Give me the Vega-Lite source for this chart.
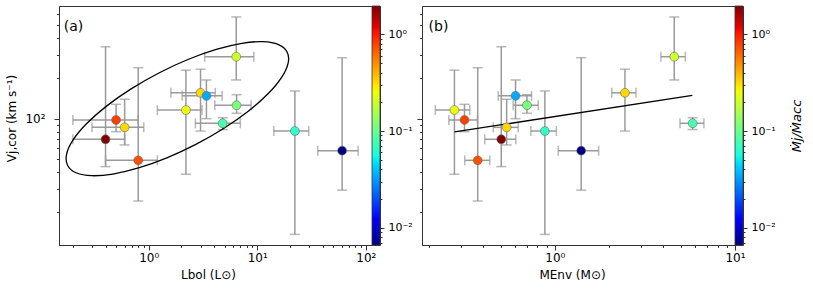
{
  "$schema": "https://vega.github.io/schema/vega-lite/v6.json",
  "padding": {"left": 5, "top": 5, "right": 0, "bottom": 0},
  "config": {
    "font": "DejaVu Sans",
    "view": {"stroke": "#333", "strokeWidth": 1},
    "axis": {"grid": false, "domainColor": "#333", "tickColor": "#333", "labelColor": "#000", "titleColor": "#000", "labelFont": "DejaVu Sans", "titleFont": "DejaVu Sans", "labelFontSize": 12, "titleFontSize": 12, "titleFontWeight": "normal", "labelFlush": false, "labelOverlap": false, "tickWidth": 1}
  },
  "datasets": {
    "src": [
      {"id": 1, "L": 0.40, "Llo": 0.20, "Lhi": 0.60, "M": 0.504, "Mlo": 0.408, "Mhi": 0.607, "V": 70.2, "Vlo": 43.9, "Vhi": 344, "R": 1.9634},
      {"id": 2, "L": 0.50, "Llo": 0.20, "Lhi": 0.80, "M": 0.315, "Mlo": 0.258, "Mhi": 0.372, "V": 97.8, "Vlo": 80, "Vhi": 128, "R": 0.81},
      {"id": 3, "L": 0.60, "Llo": 0.30, "Lhi": 0.90, "M": 0.54, "Mlo": 0.455, "Mhi": 0.626, "V": 86.2, "Vlo": 63.7, "Vhi": 139.6, "R": 0.32},
      {"id": 4, "L": 0.80, "Llo": 0.40, "Lhi": 1.20, "M": 0.373, "Mlo": 0.316, "Mhi": 0.435, "V": 48.9, "Vlo": 24.3, "Vhi": 240, "R": 0.73},
      {"id": 5, "L": 2.2, "Llo": 1.2, "Lhi": 3.1, "M": 0.277, "Mlo": 0.217, "Mhi": 0.337, "V": 116, "Vlo": 38.5, "Vhi": 230, "R": 0.246},
      {"id": 6, "L": 3.0, "Llo": 1.6, "Lhi": 4.1, "M": 2.45, "Mlo": 2.07, "Mhi": 2.82, "V": 156, "Vlo": 80.9, "Vhi": 234, "R": 0.32},
      {"id": 7, "L": 3.4, "Llo": 2.03, "Lhi": 4.74, "M": 0.605, "Mlo": 0.485, "Mhi": 0.742, "V": 148, "Vlo": 100, "Vhi": 194.5, "R": 0.0345},
      {"id": 8, "L": 6.4, "Llo": 3.28, "Lhi": 9.29, "M": 4.6, "Mlo": 3.88, "Mhi": 5.30, "V": 290, "Vlo": 194.5, "Vhi": 574, "R": 0.2},
      {"id": 9, "L": 6.45, "Llo": 4.06, "Lhi": 8.77, "M": 0.70, "Mlo": 0.587, "Mhi": 0.809, "V": 126, "Vlo": 109.7, "Vhi": 151, "R": 0.114},
      {"id": 10, "L": 4.8, "Llo": 2.69, "Lhi": 6.98, "M": 5.82, "Mlo": 4.95, "Mhi": 6.72, "V": 92.4, "Vlo": 83, "Vhi": 101.7, "R": 0.081},
      {"id": 11, "L": 22.2, "Llo": 14.2, "Lhi": 29.8, "M": 0.88, "Mlo": 0.736, "Mhi": 1.02, "V": 80.9, "Vlo": 13.7, "Vhi": 161, "R": 0.068},
      {"id": 12, "L": 60.5, "Llo": 36.1, "Lhi": 84.9, "M": 1.40, "Mlo": 1.044, "Mhi": 1.75, "V": 57.7, "Vlo": 29.3, "Vhi": 285, "R": 0.006622}
    ],
    "ell": [
      {"i": 0, "ex": 18.83, "ey": 314.8}, {"i": 1, "ex": 15.71, "ey": 356.9}, {"i": 2, "ex": 11.33, "ey": 375.4},
      {"i": 3, "ex": 7.215, "ey": 365.0}, {"i": 4, "ex": 4.184, "ey": 328.9}, {"i": 5, "ex": 2.295, "ey": 276.4},
      {"i": 6, "ex": 1.240, "ey": 219.3}, {"i": 7, "ex": 0.6881, "ey": 166.9}, {"i": 8, "ex": 0.4079, "ey": 124.1},
      {"i": 9, "ex": 0.2681, "ey": 91.96}, {"i": 10, "ex": 0.2009, "ey": 69.37}, {"i": 11, "ex": 0.1750, "ey": 54.27},
      {"i": 12, "ex": 0.1789, "ey": 44.80}, {"i": 13, "ex": 0.2144, "ey": 39.50}, {"i": 14, "ex": 0.2973, "ey": 37.55},
      {"i": 15, "ex": 0.4667, "ey": 38.62}, {"i": 16, "ex": 0.8043, "ey": 42.87}, {"i": 17, "ex": 1.467, "ey": 51.02},
      {"i": 18, "ex": 2.716, "ey": 64.29}, {"i": 19, "ex": 4.894, "ey": 84.52}, {"i": 20, "ex": 8.254, "ey": 113.6},
      {"i": 21, "ex": 12.56, "ey": 153.3}, {"i": 22, "ex": 16.76, "ey": 203.2}, {"i": 23, "ex": 19.24, "ey": 259.8}
    ],
    "fit": [{"x": 0.2774, "y": 79.6}, {"x": 5.80, "y": 149.5}],
    "lab": [{"p": "a", "t": "(a)", "x": 0.165, "y": 483}, {"p": "b", "t": "(b)", "x": 0.199, "y": 483}],
    "cb": [{"lo": 0.006622, "hi": 1.9634}]
  },
  "spacing": 3,
  "resolve": {"scale": {"x": "independent", "y": "independent", "color": "shared"}},
  "hconcat": [
    {
      "bounds": "flush",
      "spacing": 0,
      "resolve": {"scale": {"x": "independent", "y": "independent"}},
      "hconcat": [
        {
          "width": 313, "height": 239,
          "data": {"name": "src"},
          "layer": [
            {"mark": {"type": "rule", "color": "#9a9a9a", "strokeWidth": 1.5},
             "encoding": {
               "x": {"field": "L", "type": "quantitative", "scale": {"type": "log", "domain": [0.149, 114], "nice": false},
                     "axis": {"title": "Lbol (L⊙)", "titleX": 149, "values": [0.2,0.3,0.4,0.5,0.6,0.7,0.8,0.9,1,2,3,4,5,6,7,8,9,10,20,30,40,50,60,70,80,90,100],
                              "tickSize": {"condition": {"test": "datum.value == 1 || datum.value == 10 || datum.value == 100", "value": 5}, "value": 2.5},
                              "labelExpr": "datum.value == 1 ? '10⁰' : datum.value == 10 ? '10¹' : datum.value == 100 ? '10²' : ''",
                              "labelPadding": 2, "titlePadding": 6}},
               "y": {"field": "Vlo", "type": "quantitative", "scale": {"type": "log", "domain": [11.42, 693], "nice": false},
                     "axis": {"title": "Vj,cor (km s⁻¹)", "titleY": 112, "values": [20,30,40,50,60,70,80,90,100,200,300,400,500,600],
                              "tickSize": {"condition": {"test": "datum.value == 100", "value": 5}, "value": 2.5},
                              "labelExpr": "datum.value == 100 ? '10²' : ''",
                              "labelPadding": 9, "titlePadding": 6}},
               "y2": {"field": "Vhi"}}},
            {"mark": {"type": "tick", "orient": "horizontal", "color": "#9a9a9a", "size": 10, "thickness": 1.5},
             "encoding": {
               "x": {"field": "L", "type": "quantitative", "scale": {"type": "log", "domain": [0.149, 114], "nice": false}},
               "y": {"field": "Vlo", "type": "quantitative", "scale": {"type": "log", "domain": [11.42, 693], "nice": false}}}},
            {"mark": {"type": "tick", "orient": "horizontal", "color": "#9a9a9a", "size": 10, "thickness": 1.5},
             "encoding": {
               "x": {"field": "L", "type": "quantitative", "scale": {"type": "log", "domain": [0.149, 114], "nice": false}},
               "y": {"field": "Vhi", "type": "quantitative", "scale": {"type": "log", "domain": [11.42, 693], "nice": false}}}},
            {"mark": {"type": "rule", "color": "#9a9a9a", "strokeWidth": 1.5},
             "encoding": {
               "x": {"field": "Llo", "type": "quantitative", "scale": {"type": "log", "domain": [0.149, 114], "nice": false}},
               "x2": {"field": "Lhi"},
               "y": {"field": "V", "type": "quantitative", "scale": {"type": "log", "domain": [11.42, 693], "nice": false}}}},
            {"mark": {"type": "tick", "orient": "vertical", "color": "#9a9a9a", "size": 10, "thickness": 1.5},
             "encoding": {
               "x": {"field": "Llo", "type": "quantitative", "scale": {"type": "log", "domain": [0.149, 114], "nice": false}},
               "y": {"field": "V", "type": "quantitative", "scale": {"type": "log", "domain": [11.42, 693], "nice": false}}}},
            {"mark": {"type": "tick", "orient": "vertical", "color": "#9a9a9a", "size": 10, "thickness": 1.5},
             "encoding": {
               "x": {"field": "Lhi", "type": "quantitative", "scale": {"type": "log", "domain": [0.149, 114], "nice": false}},
               "y": {"field": "V", "type": "quantitative", "scale": {"type": "log", "domain": [11.42, 693], "nice": false}}}},
            {"data": {"name": "ell"},
             "mark": {"type": "line", "color": "#000", "strokeWidth": 1.3, "interpolate": "cardinal-closed", "clip": true},
             "encoding": {
               "x": {"field": "ex", "type": "quantitative", "scale": {"type": "log", "domain": [0.149, 114], "nice": false}},
               "y": {"field": "ey", "type": "quantitative", "scale": {"type": "log", "domain": [11.42, 693], "nice": false}},
               "order": {"field": "i", "type": "quantitative"}}},
            {"mark": {"type": "circle", "size": 78, "opacity": 1, "stroke": "#666", "strokeWidth": 0.6},
             "encoding": {
               "x": {"field": "L", "type": "quantitative", "scale": {"type": "log", "domain": [0.149, 114], "nice": false}},
               "y": {"field": "V", "type": "quantitative", "scale": {"type": "log", "domain": [11.42, 693], "nice": false}},
               "color": {"field": "R", "type": "quantitative", "legend": null,
                         "scale": {"type": "log", "domain": [0.006622, 0.012387, 0.04587, 0.05598, 0.11402, 0.25303, 0.28345, 1.0498, 1.1761, 1.9634],
                                   "range": ["#000080", "#0000ff", "#00dbff", "#15ffe2", "#7bff7b", "#efff08", "#ffec00", "#ff1300", "#e80000", "#800000"], "interpolate": "rgb"}}}},
            {"data": {"name": "lab"},
             "transform": [{"filter": "datum.p == 'a'"}],
             "mark": {"type": "text", "align": "left", "baseline": "middle", "fontSize": 14, "color": "#000"},
             "encoding": {
               "x": {"field": "x", "type": "quantitative", "scale": {"type": "log", "domain": [0.149, 114], "nice": false}},
               "y": {"field": "y", "type": "quantitative", "scale": {"type": "log", "domain": [11.42, 693], "nice": false}},
               "text": {"field": "t"}}}
          ]
        },
        {
          "width": 8, "height": 239,
          "data": {"name": "cb"},
          "mark": {"type": "rect", "stroke": "#333", "strokeWidth": 0.8,
                   "color": {"gradient": "linear", "x1": 0, "y1": 1, "x2": 0, "y2": 0,
                             "stops": [{"offset": 0, "color": "#000080"}, {"offset": 0.11, "color": "#0000ff"}, {"offset": 0.34, "color": "#00dbff"}, {"offset": 0.375, "color": "#15ffe2"}, {"offset": 0.5, "color": "#7bff7b"}, {"offset": 0.64, "color": "#efff08"}, {"offset": 0.66, "color": "#ffec00"}, {"offset": 0.89, "color": "#ff1300"}, {"offset": 0.91, "color": "#e80000"}, {"offset": 1, "color": "#800000"}]}},
          "encoding": {
            "y": {"field": "lo", "type": "quantitative", "scale": {"type": "log", "domain": [0.006622, 1.9634], "nice": false},
                  "axis": {"orient": "right", "title": null, "domain": false,
                           "values": [0.007,0.008,0.009,0.01,0.02,0.03,0.04,0.05,0.06,0.07,0.08,0.09,0.1,0.2,0.3,0.4,0.5,0.6,0.7,0.8,0.9,1],
                           "tickSize": {"condition": {"test": "datum.value == 1 || datum.value == 0.1 || datum.value == 0.01", "value": 4}, "value": 2},
                           "labelExpr": "datum.value == 1 ? '10⁰' : datum.value == 0.1 ? '10⁻¹' : datum.value == 0.01 ? '10⁻²' : ''",
                           "labelPadding": 4, "labelFontSize": 11}},
            "y2": {"field": "hi"}}
        }
      ]
    },
    {
      "bounds": "flush",
      "spacing": 0,
      "resolve": {"scale": {"x": "independent", "y": "independent"}},
      "hconcat": [
        {
          "width": 313, "height": 239,
          "data": {"name": "src"},
          "layer": [
            {"mark": {"type": "rule", "color": "#9a9a9a", "strokeWidth": 1.5},
             "encoding": {
               "x": {"field": "M", "type": "quantitative", "scale": {"type": "log", "domain": [0.183, 10], "nice": false},
                     "axis": {"title": "MEnv (M⊙)", "titleX": 150, "values": [0.2,0.3,0.4,0.5,0.6,0.7,0.8,0.9,1,2,3,4,5,6,7,8,9,10],
                              "tickSize": {"condition": {"test": "datum.value == 1 || datum.value == 10", "value": 5}, "value": 2.5},
                              "labelExpr": "datum.value == 1 ? '10⁰' : datum.value == 10 ? '10¹' : ''",
                              "labelPadding": 2, "titlePadding": 6}},
               "y": {"field": "Vlo", "type": "quantitative", "scale": {"type": "log", "domain": [11.42, 693], "nice": false},
                     "axis": {"title": null, "labels": false, "values": [20,30,40,50,60,70,80,90,100,200,300,400,500,600],
                              "tickSize": {"condition": {"test": "datum.value == 100", "value": 5}, "value": 2.5}}},
               "y2": {"field": "Vhi"}}},
            {"mark": {"type": "tick", "orient": "horizontal", "color": "#9a9a9a", "size": 10, "thickness": 1.5},
             "encoding": {
               "x": {"field": "M", "type": "quantitative", "scale": {"type": "log", "domain": [0.183, 10], "nice": false}},
               "y": {"field": "Vlo", "type": "quantitative", "scale": {"type": "log", "domain": [11.42, 693], "nice": false}}}},
            {"mark": {"type": "tick", "orient": "horizontal", "color": "#9a9a9a", "size": 10, "thickness": 1.5},
             "encoding": {
               "x": {"field": "M", "type": "quantitative", "scale": {"type": "log", "domain": [0.183, 10], "nice": false}},
               "y": {"field": "Vhi", "type": "quantitative", "scale": {"type": "log", "domain": [11.42, 693], "nice": false}}}},
            {"mark": {"type": "rule", "color": "#9a9a9a", "strokeWidth": 1.5},
             "encoding": {
               "x": {"field": "Mlo", "type": "quantitative", "scale": {"type": "log", "domain": [0.183, 10], "nice": false}},
               "x2": {"field": "Mhi"},
               "y": {"field": "V", "type": "quantitative", "scale": {"type": "log", "domain": [11.42, 693], "nice": false}}}},
            {"mark": {"type": "tick", "orient": "vertical", "color": "#9a9a9a", "size": 10, "thickness": 1.5},
             "encoding": {
               "x": {"field": "Mlo", "type": "quantitative", "scale": {"type": "log", "domain": [0.183, 10], "nice": false}},
               "y": {"field": "V", "type": "quantitative", "scale": {"type": "log", "domain": [11.42, 693], "nice": false}}}},
            {"mark": {"type": "tick", "orient": "vertical", "color": "#9a9a9a", "size": 10, "thickness": 1.5},
             "encoding": {
               "x": {"field": "Mhi", "type": "quantitative", "scale": {"type": "log", "domain": [0.183, 10], "nice": false}},
               "y": {"field": "V", "type": "quantitative", "scale": {"type": "log", "domain": [11.42, 693], "nice": false}}}},
            {"data": {"name": "fit"},
             "mark": {"type": "line", "color": "#000", "strokeWidth": 1.3},
             "encoding": {
               "x": {"field": "x", "type": "quantitative", "scale": {"type": "log", "domain": [0.183, 10], "nice": false}},
               "y": {"field": "y", "type": "quantitative", "scale": {"type": "log", "domain": [11.42, 693], "nice": false}}}},
            {"mark": {"type": "circle", "size": 78, "opacity": 1, "stroke": "#666", "strokeWidth": 0.6},
             "encoding": {
               "x": {"field": "M", "type": "quantitative", "scale": {"type": "log", "domain": [0.183, 10], "nice": false}},
               "y": {"field": "V", "type": "quantitative", "scale": {"type": "log", "domain": [11.42, 693], "nice": false}},
               "color": {"field": "R", "type": "quantitative", "legend": null,
                         "scale": {"type": "log", "domain": [0.006622, 0.012387, 0.04587, 0.05598, 0.11402, 0.25303, 0.28345, 1.0498, 1.1761, 1.9634],
                                   "range": ["#000080", "#0000ff", "#00dbff", "#15ffe2", "#7bff7b", "#efff08", "#ffec00", "#ff1300", "#e80000", "#800000"], "interpolate": "rgb"}}}},
            {"data": {"name": "lab"},
             "transform": [{"filter": "datum.p == 'b'"}],
             "mark": {"type": "text", "align": "left", "baseline": "middle", "fontSize": 14, "color": "#000"},
             "encoding": {
               "x": {"field": "x", "type": "quantitative", "scale": {"type": "log", "domain": [0.183, 10], "nice": false}},
               "y": {"field": "y", "type": "quantitative", "scale": {"type": "log", "domain": [11.42, 693], "nice": false}},
               "text": {"field": "t"}}}
          ]
        },
        {
          "width": 8, "height": 239,
          "data": {"name": "cb"},
          "mark": {"type": "rect", "stroke": "#333", "strokeWidth": 0.8,
                   "color": {"gradient": "linear", "x1": 0, "y1": 1, "x2": 0, "y2": 0,
                             "stops": [{"offset": 0, "color": "#000080"}, {"offset": 0.11, "color": "#0000ff"}, {"offset": 0.34, "color": "#00dbff"}, {"offset": 0.375, "color": "#15ffe2"}, {"offset": 0.5, "color": "#7bff7b"}, {"offset": 0.64, "color": "#efff08"}, {"offset": 0.66, "color": "#ffec00"}, {"offset": 0.89, "color": "#ff1300"}, {"offset": 0.91, "color": "#e80000"}, {"offset": 1, "color": "#800000"}]}},
          "encoding": {
            "y": {"field": "lo", "type": "quantitative", "scale": {"type": "log", "domain": [0.006622, 1.9634], "nice": false},
                  "axis": {"orient": "right", "title": "Ṁj/Ṁacc", "titleFontStyle": "italic", "titleFontSize": 13, "titleAngle": 270, "titlePadding": 28, "domain": false,
                           "values": [0.007,0.008,0.009,0.01,0.02,0.03,0.04,0.05,0.06,0.07,0.08,0.09,0.1,0.2,0.3,0.4,0.5,0.6,0.7,0.8,0.9,1],
                           "tickSize": {"condition": {"test": "datum.value == 1 || datum.value == 0.1 || datum.value == 0.01", "value": 4}, "value": 2},
                           "labelExpr": "datum.value == 1 ? '10⁰' : datum.value == 0.1 ? '10⁻¹' : datum.value == 0.01 ? '10⁻²' : ''",
                           "labelPadding": 4, "labelFontSize": 11}},
            "y2": {"field": "hi"}}
        }
      ]
    }
  ]
}
